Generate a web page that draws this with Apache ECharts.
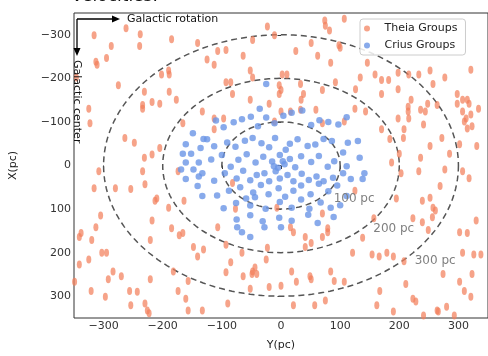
<!DOCTYPE html>
<html>
<head>
<meta charset="utf-8">
<script src="https://cdn.jsdelivr.net/npm/echarts@6/dist/echarts.min.js"></script>
<style>
  html, body { margin: 0; padding: 0; background: #fff; }
  #main { width: 488px; height: 356px; }
</style>
</head>
<body>
<div id="main"></div>
<script>
// data: [Y(pc), X(pc)] pairs
var theiaGroups = [
  [-262,-315],[-316,-299],[-238,-301],[-185,-290],[-287,-274],[-239,-274],[-313,-238],[-311,-231],
  [-295,-247],[-190,-218],[-189,-209],[-202,-209],[-125,-243],[-275,-184],[-231,-169],[-189,-169],
  [-218,-146],[-205,-142],[-234,-139],[-234,-130],[-177,-151],[-325,-130],[-133,-124],[-166,-97],
  [-264,-63],[-248,-52],[-205,-40],[-218,-25],[-231,-18],[-346,-202],[-323,-97],[-141,-281],
  [-23,-319],[74,-333],[75,-321],[107,-337],[82,-310],[-11,-299],[-48,-288],[-93,-265],[-107,-263],
  [-64,-252],[25,-263],[62,-252],[51,-281],[98,-276],[100,-270],[84,-236],[-113,-231],[-52,-218],
  [-48,-202],[2,-209],[10,-209],[-93,-191],[-85,-191],[-3,-184],[0,-173],[33,-187],[92,-191],
  [70,-173],[-82,-164],[-3,-164],[38,-164],[-52,-151],[-20,-142],[34,-151],[0,-124],[16,-124],
  [33,-128],[59,-128],[-97,-108],[-113,-83],[-11,-101],[107,-101],[70,-97],[-113,-108],
  [146,-236],[159,-209],[134,-202],[170,-196],[182,-196],[198,-213],[216,-209],[233,-209],
  [252,-218],[257,-187],[277,-202],[198,-175],[170,-164],[126,-175],[321,-220],[298,-164],
  [220,-151],[215,-135],[215,-124],[236,-128],[244,-124],[248,-142],[264,-139],[307,-151],
  [315,-151],[318,-142],[298,-142],[307,-124],[313,-108],[321,-117],[310,-101],[323,-90],
  [315,-85],[198,-108],[216,-108],[241,-94],[143,-124],[125,-130],[170,-83],[184,-61],
  [207,-63],[252,-45],[272,-63],[302,-49],[331,-45],[285,-27],[200,-27],[236,-18],[187,-7],
  [208,-83],[334,-130],
  [-308,13],[-234,13],[-316,52],[-280,52],[-254,54],[-230,43],[-213,81],[-210,76],[-174,13],
  [-305,115],[-313,142],[-338,155],[-341,164],[-218,126],[-185,144],[-172,160],[-166,155],
  [-221,171],[-190,97],[-164,81],[-320,171],[-303,200],[-295,200],[-325,216],[-341,227],
  [-148,187],[-131,193],[-141,209],[-284,243],[-292,261],[-270,254],[-221,261],[-182,243],
  [-157,265],[-321,288],[-297,301],[-256,288],[-243,290],[-254,321],[-230,317],[-226,333],
  [-223,339],[-174,288],[-161,306],[-157,333],[-133,333],[-349,267],
  [-107,142],[-93,182],[-66,200],[-85,222],[-93,245],[-64,254],[-48,243],[-44,234],[-41,249],
  [-49,249],[-25,216],[-23,189],[-7,97],[16,142],[21,153],[41,164],[51,178],[41,187],[70,164],
  [79,153],[79,144],[70,110],[-52,283],[-20,279],[0,276],[26,267],[18,243],[49,254],[51,261],
  [84,243],[90,265],[107,267],[75,310],[57,321],[21,321],[-90,317],[-77,99],[-82,40],
  [203,18],[233,13],[277,9],[307,13],[318,29],[125,58],[195,76],[239,81],[252,74],[257,97],
  [261,103],[269,47],[223,121],[239,130],[256,119],[157,121],[138,166],[121,200],[154,204],
  [166,209],[179,200],[190,209],[208,220],[249,148],[302,153],[315,155],[330,126],[307,200],
  [326,204],[338,204],[274,249],[302,267],[323,249],[211,272],[167,288],[310,288],[321,301],
  [223,306],[228,312],[264,333],[266,335],[280,324],[162,321],[190,335],[241,344],[293,344]
];
var criusGroups = [
  [-25,-187],[-36,-130],
  [-149,-74],[-131,-61],[-161,-49],[-136,-40],[-166,-27],[-152,-27],[-139,-7],[-161,-7],
  [130,-56],[133,-18],[118,31],[138,31],[141,18],
  [-161,31],[-148,9],[-139,25],[-133,18],[-141,47],[-133,70],[-169,9],
  [-74,142],[-66,153],[-52,164],[-28,142],[0,142],
  [-110,-103],[-97,-88],[-80,-99],[-66,-106],[-51,-112],[-39,-90],[-25,-110],[-11,-97],
  [4,-114],[18,-121],[36,-126],[51,-93],[65,-104],[80,-100],[97,-94],[111,-111],
  [-125,-60],[-113,-44],[-91,-53],[-77,-43],[-61,-57],[-48,-63],[-33,-51],[-20,-42],[-10,-63],
  [8,-36],[15,-50],[28,-60],[45,-45],[58,-48],[72,-61],[86,-56],[105,-30],[113,-52],
  [-118,-14],[-100,-24],[-85,3],[-72,-13],[-58,-26],[-43,-7],[-30,-20],[-15,-9],[-2,-24],
  [6,-3],[15,-15],[24,4],[34,-21],[51,-8],[64,-22],[79,3],[90,-10],[111,2],
  [-113,35],[-95,18],[-75,30],[-64,12],[-52,34],[-41,22],[-28,18],[-20,36],[-9,13],[-2,30],
  [11,22],[21,36],[35,19],[47,33],[60,25],[72,36],[88,28],[105,18],
  [-108,69],[-88,58],[-69,50],[-59,76],[-47,62],[-34,45],[-21,66],[-4,52],[7,72],[21,58],
  [34,46],[50,66],[64,42],[80,59],[95,46],[111,70],
  [-97,98],[-76,86],[-52,92],[-44,73],[-26,99],[-2,84],[18,97],[34,78],[48,99],[67,85],
  [84,97],[100,91],
  [-75,124],[-52,114],[-31,128],[-3,120],[18,127],[46,113],[62,132],[89,118],
  [-5,5],[3,-10],[-12,2]
];
var tickValues = [-300, -200, -100, 0, 100, 200, 300];
var ringRadii = [100, 200, 300];
var ringLabels = ['100 pc', '200 pc', '300 pc'];

var font = 'DejaVu Sans';

function ringPoints(r) {
  var pts = [];
  for (var a = 0; a <= 360; a += 2) {
    var t = a * Math.PI / 180;
    pts.push([r * Math.cos(t), r * Math.sin(t)]);
  }
  return pts;
}

function minusLabel(v) {
  return String(v).replace('-', '\u2212');
}

var ringSeries = ringRadii.map(function (r) {
  return {
    type: 'line',
    data: ringPoints(r),
    showSymbol: false,
    silent: true,
    z: 1,
    lineStyle: { color: '#555', width: 1.5, type: [6, 4] }
  };
});

var chart = echarts.init(document.getElementById('main'));
var option = {
  animation: false,
  textStyle: { fontFamily: font },
  grid: {
    left: 66, top: 13, right: -4, bottom: 31,
    show: true, borderColor: '#333', borderWidth: 1, backgroundColor: '#fff'
  },
  legend: {
    left: 360, top: 19,
    orient: 'vertical',
    data: [
      { name: 'Theia Groups', icon: 'circle' },
      { name: 'Crius Groups', icon: 'circle' }
    ],
    itemWidth: 25, itemHeight: 6, itemGap: 6,
    padding: [4, 8, 4, 4],
    borderColor: '#ccc', borderWidth: 1, borderRadius: 3,
    backgroundColor: 'rgba(255,255,255,0.85)',
    textStyle: { fontFamily: font, fontSize: 11, color: '#222' }
  },
  xAxis: {
    type: 'value', min: -350, max: 350,
    name: 'Y(pc)', nameLocation: 'middle', nameGap: 22,
    nameTextStyle: { fontFamily: font, fontSize: 11, color: '#222' },
    axisLine: { show: false },
    axisTick: { show: true, length: 3.5, customValues: tickValues, lineStyle: { color: '#333' } },
    axisLabel: { customValues: tickValues, margin: 3, fontSize: 11, color: '#333', fontFamily: font, formatter: minusLabel },
    splitLine: { show: false }
  },
  yAxis: {
    type: 'value', min: -350, max: 350, inverse: true,
    name: 'X(pc)', nameLocation: 'middle', nameGap: 55, nameRotate: 90,
    nameTextStyle: { fontFamily: font, fontSize: 11, color: '#222' },
    axisLine: { show: false },
    axisTick: { show: true, length: 3.5, customValues: tickValues, lineStyle: { color: '#333' } },
    axisLabel: { customValues: tickValues, margin: 3, fontSize: 11, color: '#333', fontFamily: font, formatter: minusLabel },
    splitLine: { show: false }
  },
  series: [
    {
      name: 'Theia Groups', type: 'scatter', data: theiaGroups,
      symbol: 'circle', symbolSize: [5, 8], z: 2,
      itemStyle: { color: '#f27f5c', opacity: 0.72 }
    },
    {
      name: 'Crius Groups', type: 'scatter', data: criusGroups,
      symbol: 'circle', symbolSize: 6.5, z: 3,
      itemStyle: { color: '#6a95e6', opacity: 0.8 }
    }
  ].concat(ringSeries)
};
chart.setOption(option);

// ring labels sit just outside each ring, lower right
var labelAnchors = [[89, 76], [156, 146], [226, 218]];
var graphics = labelAnchors.map(function (p, i) {
  var px = chart.convertToPixel({ gridIndex: 0 }, p);
  return {
    type: 'text', x: px[0], y: px[1], z: 20,
    style: { text: ringLabels[i], fill: '#808080', font: '12px ' + font, textVerticalAlign: 'middle' }
  };
});

graphics.push(
  { type: 'text', x: 72, y: -12, z: 20,
    style: { text: 'velocities.', fill: '#111', font: '17px ' + font } },
  // Galactic rotation arrow
  { type: 'line', z: 20, shape: { x1: 77, y1: 19, x2: 113, y2: 19 }, style: { stroke: '#000', lineWidth: 1.3 } },
  { type: 'polygon', z: 20, shape: { points: [[112, 15.5], [120, 19], [112, 22.5]] }, style: { fill: '#000' } },
  { type: 'text', x: 127, y: 19, z: 20,
    style: { text: 'Galactic rotation', fill: '#111', font: '11px ' + font, textVerticalAlign: 'middle' } },
  // Galactic center arrow
  { type: 'line', z: 20, shape: { x1: 77, y1: 19, x2: 77, y2: 49 }, style: { stroke: '#000', lineWidth: 1.3 } },
  { type: 'polygon', z: 20, shape: { points: [[73.5, 48], [77, 56], [80.5, 48]] }, style: { fill: '#000' } },
  { type: 'text', x: 77, y: 60, rotation: -Math.PI / 2, z: 20,
    style: { text: 'Galactic center', fill: '#111', font: '11px ' + font, textVerticalAlign: 'middle' } }
);

chart.setOption({ graphic: graphics });
</script>
</body>
</html>
